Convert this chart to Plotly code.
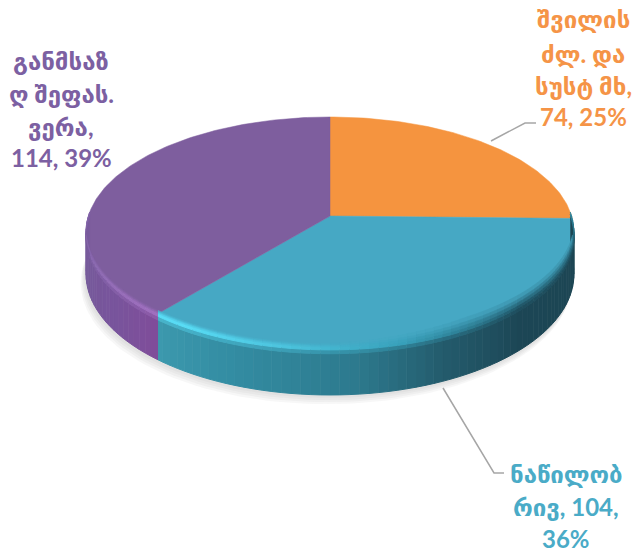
import math
import plotly.graph_objects as go

# ---- data ----
categories = ["შვილის ძლ. და სუსტ მხ", "ნაწილობრივ", "განმსაზღ შეფას. ვერა"]
values = [74, 104, 114]
percents = [25, 36, 39]
top_colors = ["#F5943F", "#46A8C4", "#7E5E9E"]
label_colors = ["#F59447", "#4AABC7", "#7C60A2"]
label_lines = [
    ["შვილის", "ძლ. და", "სუსტ მხ,", "74, 25%"],
    ["ნაწილობ", "რივ, 104,", "36%"],
    ["განმსაზ", "ღ შეფას.", "ვერა,", "114, 39%"],
]
label_x = [583, 566, 61]
label_y = [[18, 53, 85, 116], [473, 506, 538], [60, 93, 126, 157]]
leaders = [([491, 525, 536], [141, 123, 123]), ([443, 494, 504], [388, 473, 473])]

# ---- pie projection ----
CX, CY, R, S, K, D = 330, 216, 241.6, 112.8, 0.139, 41.3


def proj(a, drop=0.0, grow=1.0):
    u, v = math.sin(math.radians(a)), math.cos(math.radians(a))
    w = 1 + K * v
    return CX + grow * R * u / w, CY - grow * S * v / w + drop * D / w


def rgb(c):
    return [int(c[i:i + 2], 16) for i in (1, 3, 5)]


def blend(c0, c1, f):
    return "#%02x%02x%02x" % tuple(round(x * (1 - f) + y * f) for x, y in zip(rgb(c0), rgb(c1)))


def hexmix(stops, t):
    for (t0, c0), (t1, c1) in zip(stops, stops[1:]):
        if t0 <= t <= t1:
            return blend(c0, c1, (t - t0) / (t1 - t0))
    return stops[-1][1]


total = sum(values)
seam = 360 * (values[0] + values[1]) / total

side_stops = [(88, "#1d4653"), (135, "#1c4655"), (155, "#235a6b"), (175, "#2d7a8e"),
              (200, "#338ca2"), (seam, "#3c99ae"), (seam + 0.01, "#7f4c9a"), (235, "#78549c"),
              (258, "#755a9a"), (272, "#7a5c9e")]
rim_stops = [(88, "#2f8aa3"), (105, "#225c6e"), (135, "#21586a"), (165, "#37a0ba"), (190, "#4cc4de"),
             (212, "#58dcf5"), (seam, "#58dcf5"), (seam + 0.01, "#a06fc0"), (245, "#8d6bb3"),
             (272, "#8263a8")]

fig = go.Figure()


def poly(xs, ys, color, line=1.0):
    fig.add_trace(go.Scatter(x=xs, y=ys, mode="lines", fill="toself", fillcolor=color,
                             line=dict(color=color, width=line), hoverinfo="skip",
                             showlegend=False))


def quad(a, b, d0, d1, color, line=1.0):
    p = [proj(a, d0), proj(b, d0), proj(b, d1), proj(a, d1)]
    poly([q[0] for q in p], [q[1] for q in p], color, line)


# soft shadow below the disc
arc = [88 + i * 2 for i in range(93)]
for off, grow in [(13, 1.006), (10, 1.005), (7, 1.004), (4, 1.003)]:
    pts = [proj(a, 1, grow) for a in arc]
    xs = [p[0] - off * 0.3 for p in pts]
    ys = [p[1] + off * 0.65 for p in pts]
    poly(xs + [CX], ys + [CY], "rgba(150,150,150,0.08)", 0)

# top faces, built from the values
start = 0.0
bounds = []
for val, col in zip(values, top_colors):
    sweep = 360 * val / total
    n = max(2, int(sweep))
    pts = [proj(start + sweep * i / n) for i in range(n + 1)]
    poly([CX] + [q[0] for q in pts] + [CX], [CY] + [q[1] for q in pts] + [CY], col, 0.5)
    bounds.append((start, start + sweep, col))
    start += sweep


def top_col(a):
    for lo, hi, col in bounds:
        if lo <= a <= hi:
            return col
    return bounds[-1][2]


# angle steps that break exactly on the slice seam
left = [88 + i * 2 for i in range(int((seam - 88) / 2) + 1)] + [seam]
right = [seam + i * 2 for i in range(1, int((272 - seam) / 2) + 1)] + [272]
angles = left + right

# side wall first, then blur bands over the face
for a, b in zip(angles, angles[1:]):
    mid = (a + b) / 2
    side, rim, top = hexmix(side_stops, mid), hexmix(rim_stops, mid), top_col(mid)
    quad(a, b, 0.14, 1.0, side)
    quad(a, b, 0.06, 0.14, blend(rim, side, 0.6))
    quad(a, b, 0.0, 0.06, rim)

# blur reaches deeper into the face where the wall is dark
for a, b in zip(angles, angles[1:]):
    mid = (a + b) / 2
    if not 104 <= a <= 258:
        continue
    rim, top = hexmix(rim_stops, mid), top_col(mid)
    sc = 1.0 if mid < 150 else max(0.3, 1 - (mid - 150) / 45)
    quad(a, b, -0.22 * sc, -0.13 * sc, blend(top, rim, 0.18), 0.6)
    quad(a, b, -0.13 * sc, -0.06 * sc, blend(top, rim, 0.45), 0.6)
    quad(a, b, -0.06 * sc, 0.0, blend(top, rim, 0.75), 0.6)

# leader lines
for lx, ly in leaders:
    fig.add_trace(go.Scatter(x=lx, y=ly, mode="lines", line=dict(color="#A6A6A6", width=1.5),
                             hoverinfo="skip", showlegend=False))

# labels: one annotation per line, for the tight line pitch of the reference
for lines, ys, x, col in zip(label_lines, label_y, label_x, label_colors):
    for t, y in zip(lines, ys):
        fig.add_annotation(x=x, y=y, text="<b>%s</b>" % t, showarrow=False, xanchor="center",
                           yanchor="middle", font=dict(family="Lato, DejaVu Sans", size=24, color=col))

fig.update_layout(
    width=639, height=552, margin=dict(l=0, r=0, t=0, b=0),
    paper_bgcolor="white", plot_bgcolor="white", showlegend=False,
    xaxis=dict(range=[0, 639], visible=False, fixedrange=True),
    yaxis=dict(range=[552, 0], visible=False, fixedrange=True),
)
fig.write_html("out.html", post_script="document.body.style.margin='0';",
               config={"displayModeBar": False})
